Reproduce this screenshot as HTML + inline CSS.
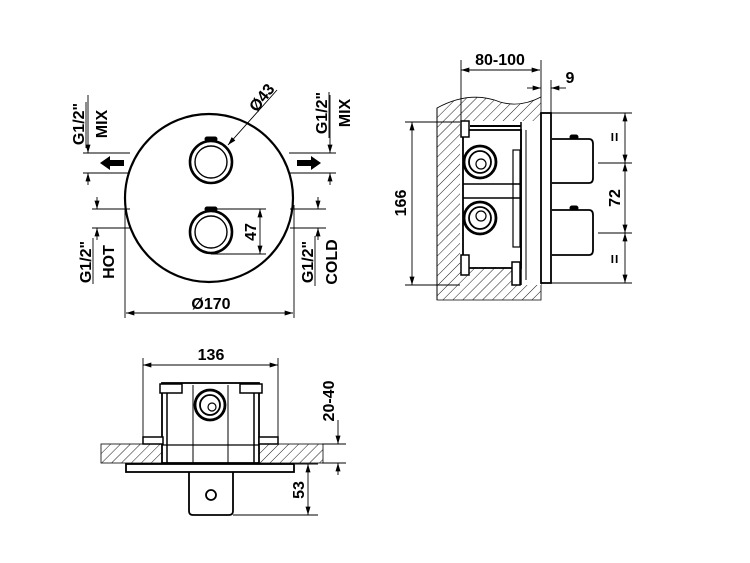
<!DOCTYPE html>
<html><head><meta charset="utf-8"><style>
html,body{margin:0;padding:0;background:#fff;}
svg{display:block;}
text{font-family:"Liberation Sans",Arial,sans-serif;font-weight:bold;fill:#000;}
</style></head><body>
<svg width="750" height="563" viewBox="0 0 750 563" xmlns="http://www.w3.org/2000/svg">
<defs>
<pattern id="h" patternUnits="userSpaceOnUse" width="7" height="7" patternTransform="rotate(45)">
<line x1="0" y1="0" x2="0" y2="7" stroke="#000" stroke-width="0.9"/>
</pattern>
<marker id="a" viewBox="0 0 10 6" refX="10" refY="3" markerWidth="9" markerHeight="5" orient="auto-start-reverse" markerUnits="userSpaceOnUse"><path d="M0,0 L10,3 L0,6z" fill="#000"/></marker>
</defs>
<g stroke="#000" fill="none">
<circle cx="209" cy="198" r="84" stroke-width="2.2"/>
<circle cx="211" cy="162" r="21" stroke-width="2.6"/>
<circle cx="211" cy="162" r="16" stroke-width="1.4"/>
<rect x="205" y="137" width="12" height="4" rx="2" fill="#000"/>
<circle cx="211" cy="232" r="21" stroke-width="2.6"/>
<circle cx="211" cy="232" r="16" stroke-width="1.4"/>
<rect x="205" y="207" width="12" height="4" rx="2" fill="#000"/>
<g stroke-width="0.9">
<line x1="211" y1="209" x2="266" y2="209"/><line x1="211" y1="254" x2="266" y2="254"/>
<line x1="260" y1="209" x2="260" y2="254" marker-start="url(#a)" marker-end="url(#a)"/>
<line x1="277" y1="90" x2="228" y2="145" marker-end="url(#a)"/>
<line x1="83" y1="153" x2="130" y2="153"/><line x1="83" y1="173" x2="130" y2="173"/>
<line x1="88" y1="95" x2="88" y2="153" marker-end="url(#a)"/><line x1="88" y1="185" x2="88" y2="173" marker-end="url(#a)"/>
<line x1="92" y1="209" x2="130" y2="209"/><line x1="92" y1="228" x2="130" y2="228"/>
<line x1="97" y1="197" x2="97" y2="209" marker-end="url(#a)"/><line x1="97" y1="240" x2="97" y2="228" marker-end="url(#a)"/>
<line x1="289" y1="153" x2="336" y2="153"/><line x1="289" y1="173" x2="336" y2="173"/>
<line x1="330" y1="95" x2="330" y2="153" marker-end="url(#a)"/><line x1="330" y1="185" x2="330" y2="173" marker-end="url(#a)"/>
<line x1="290" y1="209" x2="326" y2="209"/><line x1="290" y1="228" x2="326" y2="228"/>
<line x1="318" y1="197" x2="318" y2="209" marker-end="url(#a)"/><line x1="318" y1="240" x2="318" y2="228" marker-end="url(#a)"/>
<line x1="125" y1="205" x2="125" y2="318"/><line x1="294" y1="205" x2="294" y2="318"/>
<line x1="126" y1="313" x2="293" y2="313" marker-start="url(#a)" marker-end="url(#a)"/>
</g>
<path d="M100,163 L110,156 L110,160 L124,160 L124,166 L110,166 L110,170 Z" fill="#000" stroke="none"/>
<path d="M321,163 L311,156 L311,160 L297,160 L297,166 L311,166 L311,170 Z" fill="#000" stroke="none"/>
</g>
<g font-size="16">
<text transform="translate(266,101) rotate(-52)" text-anchor="middle">Ø43</text>
<text transform="translate(256,232) rotate(-90)" text-anchor="middle">47</text>
<text x="211" y="309" text-anchor="middle">Ø170</text>
<text transform="translate(84,124) rotate(-90)" text-anchor="middle">G1/2"</text>
<text transform="translate(107,124) rotate(-90)" text-anchor="middle">MIX</text>
<text transform="translate(327,113) rotate(-90)" text-anchor="middle">G1/2"</text>
<text transform="translate(350,113) rotate(-90)" text-anchor="middle">MIX</text>
<text transform="translate(91,262) rotate(-90)" text-anchor="middle">G1/2"</text>
<text transform="translate(114,262) rotate(-90)" text-anchor="middle">HOT</text>
<text transform="translate(313,262) rotate(-90)" text-anchor="middle">G1/2"</text>
<text transform="translate(337,262) rotate(-90)" text-anchor="middle">COLD</text>
</g>
<g stroke="#000" stroke-width="0.9">
<line x1="86" y1="102" x2="86" y2="148"/>
<line x1="329" y1="92" x2="329" y2="138"/>
<line x1="93" y1="238" x2="93" y2="284"/>
<line x1="315" y1="236" x2="315" y2="286"/>
</g>

<path d="M437,108 Q470,90 500,102 Q520,108 541,97 L541,300 L437,300 Z" fill="url(#h)" stroke="#000" stroke-width="0.8"/>
<rect x="460" y="121" width="81" height="164" fill="#fff"/>
<rect x="460" y="267" width="54" height="18" fill="url(#h)"/>
<g stroke="#000" fill="none">
<line x1="437" y1="108" x2="437" y2="300" stroke-width="1"/>
<rect x="463" y="130" width="58" height="138" stroke-width="1.8"/>
<rect x="461" y="121" width="8" height="16" fill="#fff" stroke-width="1.5"/>
<rect x="461" y="255" width="8" height="20" fill="#fff" stroke-width="1.5"/>
<rect x="512" y="262" width="8" height="23" fill="#fff" stroke-width="1.5"/>
<line x1="470" y1="126" x2="521" y2="126" stroke-width="2"/>
<line x1="521" y1="122" x2="521" y2="285" stroke-width="1.5"/>
<line x1="526" y1="130" x2="526" y2="280" stroke-width="1"/>
<rect x="513" y="150" width="7" height="97" stroke-width="1.2"/>
<line x1="463" y1="184" x2="521" y2="184" stroke-width="1.5"/>
<line x1="463" y1="198" x2="521" y2="198" stroke-width="1.5"/>
<circle cx="480" cy="162" r="16" stroke-width="2.8"/><circle cx="480" cy="162" r="11" stroke-width="1.8"/><circle cx="481" cy="164" r="5" stroke-width="1.2"/>
<circle cx="480" cy="218" r="16" stroke-width="2.8"/><circle cx="480" cy="218" r="11" stroke-width="1.8"/><circle cx="481" cy="216" r="5" stroke-width="1.2"/>
<rect x="541" y="113" width="10" height="170" fill="#fff" stroke-width="1.8"/>
<path d="M552,139 H589 Q593,139 593,144 V178 Q593,183 589,183 H552" stroke-width="1.8"/>
<path d="M552,210 H589 Q593,210 593,215 V250 Q593,255 589,255 H552" stroke-width="1.8"/>
<rect x="570" y="135" width="8" height="4" rx="2" fill="#000"/>
<rect x="570" y="206" width="8" height="4" rx="2" fill="#000"/>
<g stroke-width="0.9">
<line x1="405" y1="122" x2="460" y2="122"/><line x1="405" y1="285" x2="460" y2="285"/>
<line x1="412" y1="122" x2="412" y2="285" marker-start="url(#a)" marker-end="url(#a)"/>
<line x1="461" y1="60" x2="461" y2="121"/><line x1="541" y1="60" x2="541" y2="97"/>
<line x1="461" y1="70" x2="540" y2="70" marker-start="url(#a)" marker-end="url(#a)"/>
<line x1="551" y1="80" x2="551" y2="113"/>
<line x1="527" y1="88" x2="541" y2="88" marker-end="url(#a)"/><line x1="566" y1="88" x2="551" y2="88" marker-end="url(#a)"/>
<line x1="551" y1="113" x2="632" y2="113"/><line x1="551" y1="283" x2="632" y2="283"/>
<line x1="598" y1="163" x2="632" y2="163"/><line x1="598" y1="233" x2="632" y2="233"/>
<line x1="625" y1="113" x2="625" y2="163" marker-start="url(#a)" marker-end="url(#a)"/>
<line x1="625" y1="163" x2="625" y2="233" marker-start="url(#a)" marker-end="url(#a)"/>
<line x1="625" y1="233" x2="625" y2="283" marker-start="url(#a)" marker-end="url(#a)"/>
</g>
</g>
<g font-size="16">
<text x="500" y="65" text-anchor="middle">80-100</text>
<text x="570" y="83" text-anchor="middle">9</text>
<text transform="translate(406,203) rotate(-90)" text-anchor="middle">166</text>
<text transform="translate(620,137) rotate(-90)" text-anchor="middle">=</text>
<text transform="translate(620,198) rotate(-90)" text-anchor="middle">72</text>
<text transform="translate(620,259) rotate(-90)" text-anchor="middle">=</text>
</g>

<rect x="101" y="444" width="222" height="19" fill="url(#h)" stroke="#000" stroke-width="0.8"/>
<g stroke="#000" fill="none">
<rect x="162" y="383" width="97" height="80" fill="#fff" stroke-width="1.8"/>
<line x1="167" y1="393" x2="167" y2="463" stroke-width="1.5"/>
<line x1="254" y1="393" x2="254" y2="463" stroke-width="1.5"/>
<line x1="193" y1="385" x2="193" y2="463" stroke-width="1"/>
<line x1="228" y1="385" x2="228" y2="463" stroke-width="1"/>
<line x1="162" y1="445" x2="259" y2="445" stroke-width="1.2"/>
<rect x="160" y="384" width="22" height="9" fill="#fff" stroke-width="1.5"/>
<rect x="240" y="384" width="22" height="9" fill="#fff" stroke-width="1.5"/>
<rect x="143" y="437" width="20" height="7" fill="#fff" stroke-width="1.5"/>
<rect x="259" y="437" width="19" height="7" fill="#fff" stroke-width="1.5"/>
<circle cx="210" cy="405" r="15" fill="#fff" stroke-width="2.8"/><circle cx="210" cy="405" r="10" stroke-width="1.8"/><circle cx="212" cy="407" r="4" stroke-width="1.2"/>
<rect x="126" y="464" width="168" height="8" fill="#fff" stroke-width="1.8"/>
<path d="M189,472 V511 Q189,515 193,515 H229 Q233,515 233,511 V472" stroke-width="1.8"/>
<circle cx="211" cy="495" r="5" stroke-width="1.8"/>
<g stroke-width="0.9">
<line x1="143" y1="358" x2="143" y2="437"/><line x1="278" y1="358" x2="278" y2="437"/>
<line x1="143" y1="365" x2="278" y2="365" marker-start="url(#a)" marker-end="url(#a)"/>
<line x1="322" y1="444" x2="346" y2="444"/><line x1="322" y1="463" x2="346" y2="463"/>
<line x1="338" y1="420" x2="338" y2="444" marker-end="url(#a)"/><line x1="338" y1="475" x2="338" y2="463" marker-end="url(#a)"/>
<line x1="295" y1="464" x2="318" y2="464"/><line x1="233" y1="515" x2="318" y2="515"/>
<line x1="308" y1="464" x2="308" y2="515" marker-start="url(#a)" marker-end="url(#a)"/>
</g>
</g>
<g font-size="16">
<text x="211" y="360" text-anchor="middle">136</text>
<text transform="translate(334,401) rotate(-90)" text-anchor="middle">20-40</text>
<text transform="translate(304,490) rotate(-90)" text-anchor="middle">53</text>
</g>
</svg>
</body></html>
